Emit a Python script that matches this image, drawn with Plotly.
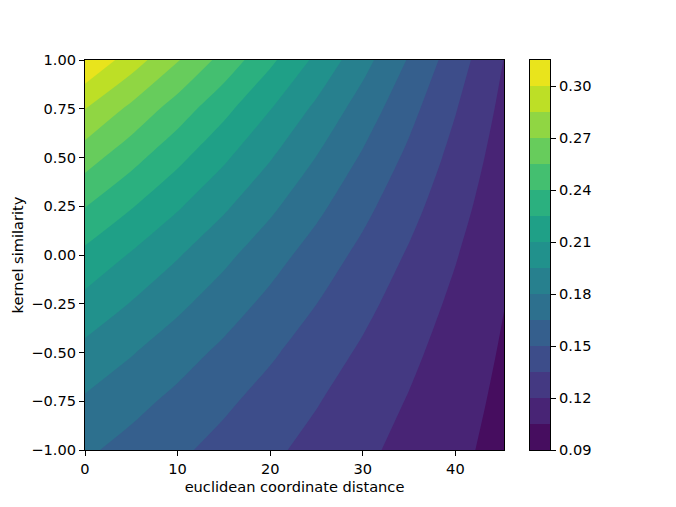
import plotly.graph_objects as go

# euclidean coordinate distance (columns) and kernel similarity (rows)
distance = [0, 5, 10, 15, 20, 25, 30, 35, 40, 45.25]
similarity = [-1.0, -0.75, -0.5, -0.25, 0.0, 0.25, 0.5, 0.75, 1.0]

# values, one row per similarity level
row_m100 = [0.1674, 0.1600, 0.1526, 0.1452, 0.1378, 0.1304, 0.1230, 0.1156, 0.1082, 0.1004]
row_m075 = [0.1780, 0.1696, 0.1612, 0.1527, 0.1443, 0.1359, 0.1275, 0.1191, 0.1106, 0.1018]
row_m050 = [0.1906, 0.1810, 0.1713, 0.1617, 0.1521, 0.1424, 0.1328, 0.1232, 0.1135, 0.1034]
row_m025 = [0.2053, 0.1942, 0.1832, 0.1722, 0.1611, 0.1501, 0.1390, 0.1280, 0.1169, 0.1053]
row_p000 = [0.2213, 0.2087, 0.1962, 0.1836, 0.1711, 0.1585, 0.1460, 0.1334, 0.1209, 0.1077]
row_p025 = [0.2405, 0.2261, 0.2117, 0.1973, 0.1830, 0.1686, 0.1542, 0.1398, 0.1254, 0.1103]
row_p050 = [0.2617, 0.2453, 0.2289, 0.2124, 0.1960, 0.1796, 0.1632, 0.1468, 0.1303, 0.1131]
row_p075 = [0.2852, 0.2665, 0.2479, 0.2292, 0.2105, 0.1918, 0.1732, 0.1545, 0.1358, 0.1162]
row_p100 = [0.3140, 0.2925, 0.2711, 0.2496, 0.2281, 0.2067, 0.1852, 0.1637, 0.1422, 0.1197]

z_rows = [row_m100, row_m075, row_m050, row_m025, row_p000,
          row_p025, row_p050, row_p075, row_p100]

# contour levels (band edges) shown in the colour bar
levels = [0.09, 0.105, 0.12, 0.135, 0.15, 0.165, 0.18, 0.195, 0.21,
          0.225, 0.24, 0.255, 0.27, 0.285, 0.30, 0.315]
level_step = 0.015

x_ticks = [0, 10, 20, 30, 40]
y_ticks = [-1.0, -0.75, -0.5, -0.25, 0.0, 0.25, 0.5, 0.75, 1.0]
y_tick_text = ["\u22121.00", "\u22120.75", "\u22120.50", "\u22120.25", "0.00",
               "0.25", "0.50", "0.75", "1.00"]
cb_ticks = [0.09, 0.12, 0.15, 0.18, 0.21, 0.24, 0.27, 0.30]
cb_tick_text = ["0.09", "0.12", "0.15", "0.18", "0.21", "0.24", "0.27", "0.30"]

band_colors = ["#460d5f", "#482475", "#443982", "#3d4d8a", "#355f8d",
               "#2d708e", "#27808e", "#21918c", "#1fa087", "#2bb07f",
               "#44bf70", "#67cc5c", "#90d643", "#bddf26", "#e9e41c"]
n = len(band_colors)
colorscale = []
for i, c in enumerate(band_colors):
    colorscale.append([i / n, c])
    colorscale.append([(i + 1) / n, c])

font = dict(family="DejaVu Sans", size=14.6, color="black")

fig = go.Figure()
fig.add_trace(go.Contour(
    x=distance, y=similarity, z=z_rows,
    colorscale=colorscale, showscale=False,
    contours=dict(start=levels[0], end=levels[-1], size=level_step, coloring="fill"),
    line=dict(width=0, smoothing=0.8),
    hoverinfo="skip",
    xaxis="x", yaxis="y",
))

# colour bar drawn as a one-column heatmap of the bands
band_mids = [(levels[i] + levels[i + 1]) / 2 for i in range(len(levels) - 1)]
fig.add_trace(go.Heatmap(
    x=[0], y=band_mids, z=[[m] for m in band_mids],
    colorscale=colorscale, zmin=levels[0], zmax=levels[-1],
    showscale=False, hoverinfo="skip",
    xaxis="x2", yaxis="y2",
))

# the page body adds an 8 px offset, so figure coordinates are page - 8
W, H = 668, 499
left, right_edge, top, bottom = 77, 542, 52, 442
area_w = right_edge - left
main_right = 496
cb_left = 522

axis_common = dict(
    ticks="outside", ticklen=5, tickwidth=1.1, tickcolor="black",
    showline=True, linecolor="black", linewidth=1.1, mirror=True,
    showgrid=False, zeroline=False, automargin=False, tickfont=font,
)

fig.update_layout(
    width=W, height=H,
    margin=dict(l=left, r=W - right_edge, t=top, b=H - bottom),
    paper_bgcolor="white", plot_bgcolor="white",
    font=font, showlegend=False,
    xaxis=dict(
        domain=[0, (main_right - left) / area_w],
        range=[0, 45.25], tickmode="array", tickvals=x_ticks,
        title=dict(text="euclidean coordinate distance", font=font, standoff=6),
        **axis_common,
    ),
    yaxis=dict(
        domain=[0, 1],
        range=[-1, 1], tickmode="array", tickvals=y_ticks, ticktext=y_tick_text,
        title=dict(text="kernel similarity", font=font, standoff=4),
        **axis_common,
    ),
    xaxis2=dict(
        domain=[(cb_left - left) / area_w, 1], anchor="y2",
        range=[-0.5, 0.5], showticklabels=False,
        **{**axis_common, "ticks": ""},
    ),
    yaxis2=dict(
        domain=[0, 1], anchor="x2", side="right",
        range=[levels[0], levels[-1]], tickmode="array",
        tickvals=cb_ticks, ticktext=cb_tick_text,
        **axis_common,
    ),
)

fig.write_html("out.html")
